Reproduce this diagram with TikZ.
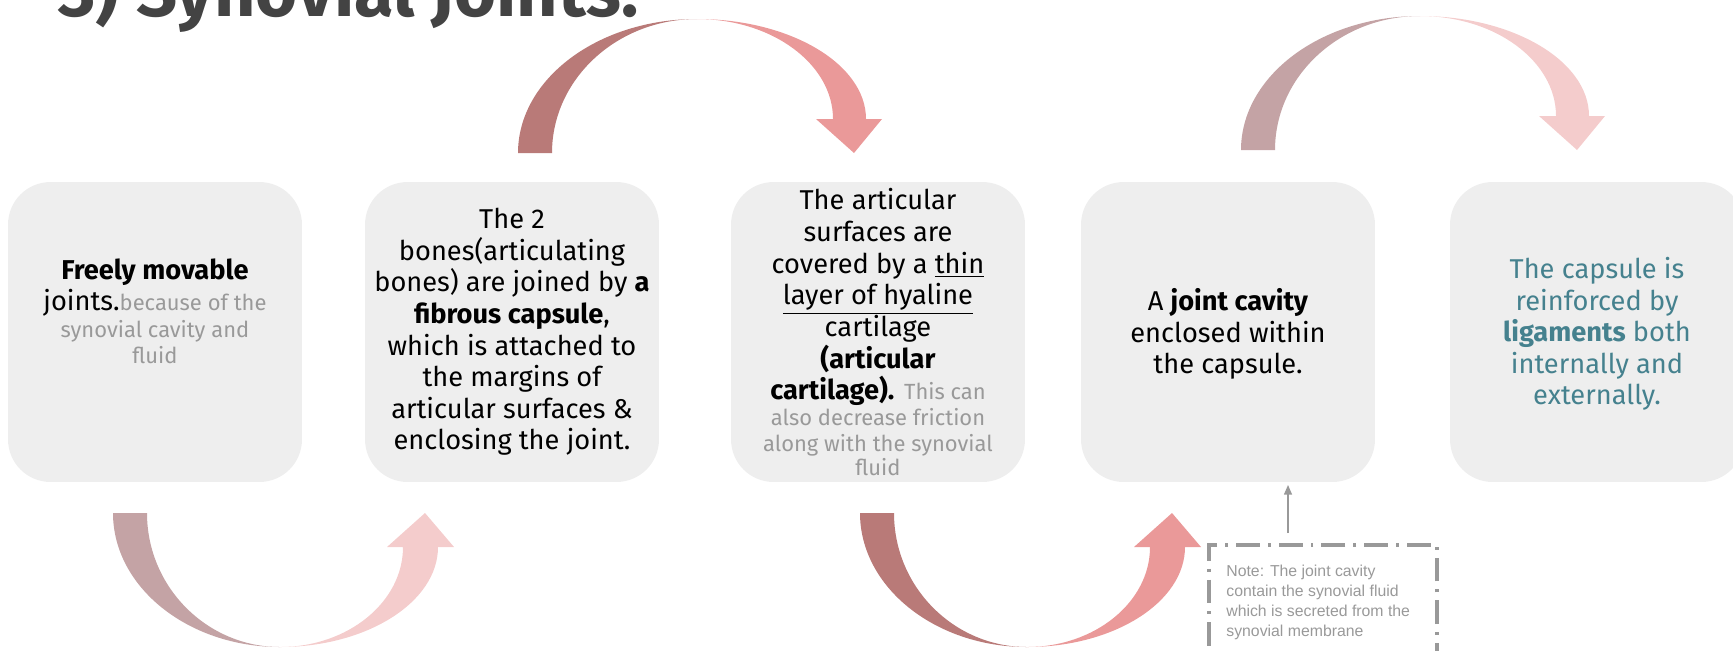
\documentclass[tikz,border=0pt]{standalone}
\usepackage{fontspec}
\setmainfont{Fira Sans}
\newfontfamily\notefont{Liberation Sans}
\usetikzlibrary{arrows.meta, calc}
\definecolor{boxgray}{HTML}{EEEEEE}
\definecolor{txtgray}{HTML}{999999}
\definecolor{titlegray}{HTML}{434343}
\definecolor{capteal}{HTML}{45818E}
\definecolor{rosedark}{HTML}{B97A78}
\definecolor{roselight}{HTML}{EA9999}
\definecolor{mauve}{HTML}{C4A3A5}
\definecolor{blush}{HTML}{F4CCCC}
\newcommand{\faint}[1]{{\fontsize{12.5}{14.7}\selectfont\color{txtgray}#1}}

\begin{document}
\begin{tikzpicture}[x=0.02cm, y=-0.02cm,
        card/.style={rounded corners=0.85cm, fill=boxgray, minimum width=5.88cm, minimum height=6cm, inner sep=0pt},
        body/.style={align=center, inner sep=0pt, font=\fontsize{15.5}{18}\selectfont},
        title/.style={inner sep=0pt, text=titlegray, font=\fontsize{41}{48}\selectfont\bfseries},
        notebox/.style={draw=txtgray, line width=2.3pt, dash pattern=on 13.6pt off 4.5pt on 1.7pt off 4.5pt,
          minimum width=4.56cm, minimum height=3cm, inner sep=0pt},
        notetext/.style={align=left, inner sep=0pt, text=txtgray, font=\notefont\fontsize{9}{11.3}\selectfont},
        pointer/.style={draw=txtgray, line width=0.85pt, -{Triangle[length=5.5pt,width=4.5pt]}, shorten >=1.5pt}
      ]
        \useasboundingbox (0,0) rectangle (1733,650);
        \clip (0,0) rectangle (1733,650);
        \node[title, anchor=base west] (ttl) at (58,16) {3) Synovial Joints.};
        \foreach \x [count=\i] in {155,512,878,1228,1597} { \node[card] (b\i) at (\x,332) {}; }
        \foreach \ox/\dk/\lt in {113/mauve/blush, 860/rosedark/roselight} {
          \begin{scope}[shift={(\ox,513)}]
            \fill[\dk] (0,0) .. controls (0,74) and (75,134) .. (167,134) .. controls (94,134) and (34,74) .. (34,0) -- cycle;
            \fill[\lt] (167,134) .. controls (254,134) and (325,89) .. (325,34) -- (341,34) -- (312,0) -- (274,34) -- (290,34)
              .. controls (290,89) and (235,134) .. (167,134) -- cycle;
          \end{scope}
        }
        \foreach \ox/\oy/\dk/\lt in {518/153/rosedark/roselight, 1241/150/mauve/blush} {
          \begin{scope}[shift={(\ox,\oy)}]
            \fill[\dk] (0,0) .. controls (0,-74) and (80,-134) .. (179,-134) .. controls (99,-134) and (34,-74) .. (34,0) -- cycle;
            \fill[\lt] (179,-134) .. controls (272,-134) and (348,-89) .. (348,-34) -- (364,-34) -- (336,0) -- (298,-34) -- (315,-34)
              .. controls (315,-89) and (254,-134) .. (179,-134) -- cycle;
          \end{scope}
        }
        \node[body] (t1) at ($(b1.center)+(0,-21)$) {\textbf{Freely movable}\\ joints.\faint{because of the}\\[-2.7pt]
          \faint{synovial cavity and}\\[-3.3pt] \faint{fluid}};
        \node[body] (t2) at (b2.center) {The 2\\ bones(articulating\\ bones) are joined by \textbf{a}\\
          \textbf{fibrous capsule},\\ which is attached to\\ the margins of\\ articular surfaces \&\\ enclosing the joint.};
        \node[body] (t3) at (b3.center) {The articular\\ surfaces are\\ covered by a \underline{thin}\\ \underline{layer of hyaline}\\
          cartilage\\ \textbf{(articular}\\ \textbf{cartilage).} \faint{This can}\\[-3.3pt] \faint{also decrease friction}\\[-3.3pt]
          \faint{along with the synovial}\\[-4.5pt] \faint{fluid}};
        \node[body] (t4) at ($(b4.center)+(0,2)$) {A \textbf{joint cavity}\\ enclosed within\\ the capsule.};
        \node[body, text=capteal] (t5) at ($(b5.center)+(0,2)$) {The capsule is\\ reinforced by\\ \textbf{ligaments} both\\
          internally and\\ externally.};
        \node[notebox, anchor=north west] (note) at (1207,543) {};
        \node[notetext, anchor=north west] (memo) at (1226,565) {Note: The joint cavity\\ contain the synovial fluid\\
          which is secreted from the\\ synovial membrane};
        \coordinate (ptr) at (1288,533);
        \draw[pointer] (ptr) -- (ptr |- b4.south);
      \end{tikzpicture}
\end{document}
